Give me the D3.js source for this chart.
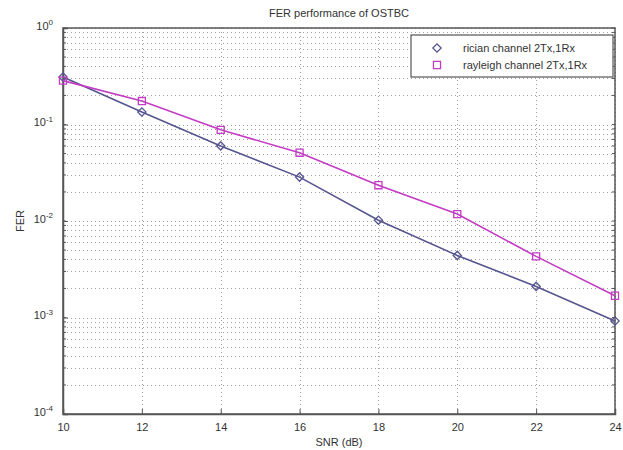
<!DOCTYPE html>
<html lang="en">
<head>
  <meta charset="UTF-8">
  <title>FER performance of OSTBC</title>
  <style>
  body { margin: 0; background: #fff; }
  #chart text { font-family: "Liberation Sans", Arial, sans-serif; fill: #333; }
  </style>
</head>
<body>
  <div id="chart"></div>
  <script src="https://cdn.jsdelivr.net/npm/d3@7"></script>
  <script>

// data
const snr = [10, 12, 14, 16, 18, 20, 22, 24]
const rician = [0.31, 0.135, 0.060, 0.0285, 0.0102, 0.0044, 0.0021, 0.00092]
const rayleigh = [0.285, 0.175, 0.088, 0.051, 0.0235, 0.0118, 0.0043, 0.00168]
const xTicks = [10, 12, 14, 16, 18, 20, 22, 24]
const yExps = [0, -1, -2, -3, -4]
const seriesNames = ['rician channel 2Tx,1Rx', 'rayleigh channel 2Tx,1Rx']

const W = 623, H = 450
const m = {left: 63, right: 8, top: 28, bottom: 36}

const svg = d3.select('#chart').append('svg')
  .attr('width', W).attr('height', H)

const x = d3.scaleLinear().domain([10, 24]).range([m.left, W - m.right])
const y = d3.scaleLog().domain([1e-4, 1]).range([H - m.bottom, m.top])

const grid = svg.append('g')
// minor + major horizontal grid
y.ticks().forEach(v => {
  grid.append('line')
    .attr('x1', x(10)).attr('x2', x(24))
    .attr('y1', Math.round(y(v)) + 0.5).attr('y2', Math.round(y(v)) + 0.5)
    .attr('stroke', '#a0a0a0').attr('stroke-width', 1)
    .attr('stroke-dasharray', '1,3')
})
xTicks.forEach(v => {
  grid.append('line')
    .attr('x1', Math.round(x(v)) + 0.5).attr('x2', Math.round(x(v)) + 0.5)
    .attr('y1', y(1)).attr('y2', y(1e-4))
    .attr('stroke', '#a0a0a0').attr('stroke-width', 1)
    .attr('stroke-dasharray', '1,3')
})

// axes (ticks inward like matlab)
const xAxis = svg.append('g')
  .attr('transform', `translate(0,${y(1e-4)})`)
  .call(d3.axisBottom(x).tickValues(xTicks).tickSize(-5).tickPadding(9).tickFormat(d3.format('d')))
xAxis.selectAll('text').attr('font-size', 11)

const yAxis = svg.append('g')
  .attr('transform', `translate(${x(10)},0)`)
  .call(d3.axisLeft(y).tickValues(yExps.map(e => Math.pow(10, e))).tickSize(-5).tickPadding(8).tickFormat(''))
yAxis.selectAll('.tick').each(function(d, i) {
  const t = d3.select(this).append('text')
    .attr('x', -10).attr('dy', '0.1em')
    .attr('text-anchor', 'end').attr('font-size', 11)
  t.append('tspan').text('10')
  t.append('tspan').attr('dy', '-0.55em').attr('font-size', 8).text(String(yExps[i]))
})
// minor y ticks
y.ticks().forEach(v => {
  svg.append('line').attr('x1', x(10)).attr('x2', x(10) + 3)
    .attr('y1', y(v)).attr('y2', y(v)).attr('stroke', '#555')
  svg.append('line').attr('x1', x(24)).attr('x2', x(24) - 3)
    .attr('y1', y(v)).attr('y2', y(v)).attr('stroke', '#555')
})
svg.selectAll('.domain').attr('stroke', '#555').attr('stroke-width', 1.5)
svg.selectAll('.tick line').attr('stroke', '#555')

// box
svg.append('rect')
  .attr('x', x(10)).attr('y', y(1))
  .attr('width', x(24) - x(10)).attr('height', y(1e-4) - y(1))
  .attr('fill', 'none').attr('stroke', '#555').attr('stroke-width', 1.5)

// series
const colors = ['#55558f', '#c43cc4']
const line = d3.line().x((d, i) => x(snr[i])).y(d => y(d))
const diamond = d3.symbol().type(d3.symbolSquare).size(34)
const square = d3.symbol().type(d3.symbolSquare).size(50)
const markerRot = [45, 0]

;[rician, rayleigh].forEach((s, k) => {
  svg.append('path').datum(s)
    .attr('d', line).attr('fill', 'none')
    .attr('stroke', colors[k]).attr('stroke-width', 1.6)
  svg.selectAll(null).data(s).enter().append('path')
    .attr('transform', (d, i) => `translate(${x(snr[i])},${y(d)}) rotate(${markerRot[k]})`)
    .attr('d', k === 0 ? diamond : square)
    .attr('fill', 'none').attr('stroke', colors[k]).attr('stroke-width', 1.3)
})

// legend
const lg = svg.append('g').attr('transform', 'translate(411,35)')
lg.append('rect').attr('width', 202).attr('height', 42)
  .attr('fill', '#fff').attr('stroke', '#555').attr('stroke-width', 1.2)
seriesNames.forEach((name, k) => {
  const yy = 13 + k * 17
  lg.append('path').attr('transform', `translate(26,${yy}) rotate(${markerRot[k]})`)
    .attr('d', k === 0 ? diamond : square)
    .attr('fill', 'none').attr('stroke', colors[k]).attr('stroke-width', 1.3)
  lg.append('text').attr('x', 52).attr('y', yy).attr('dy', '0.35em')
    .attr('font-size', 11).text(name)
})

// labels
svg.append('text').attr('x', (x(10) + x(24)) / 2).attr('y', 17)
  .attr('text-anchor', 'middle').attr('font-size', 11).text('FER performance of OSTBC')
svg.append('text').attr('x', (x(10) + x(24)) / 2).attr('y', 446)
  .attr('text-anchor', 'middle').attr('font-size', 11).text('SNR (dB)')
svg.append('text')
  .attr('transform', `translate(24,${(y(1) + y(1e-4)) / 2}) rotate(-90)`)
  .attr('text-anchor', 'middle').attr('font-size', 11).text('FER')

  </script>
</body>
</html>
